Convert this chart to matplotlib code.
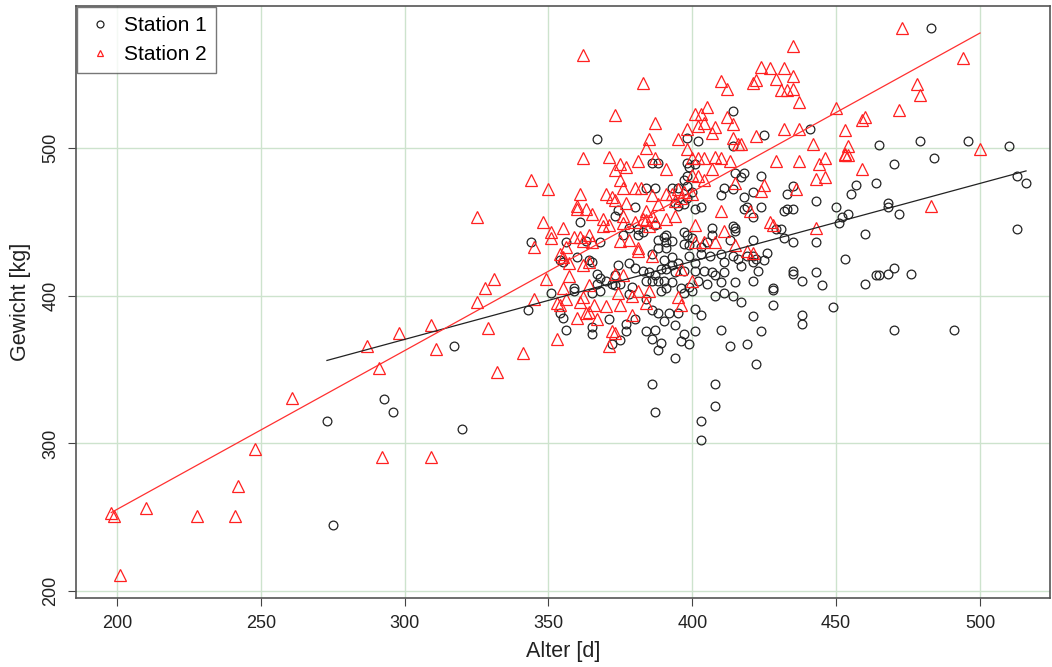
import matplotlib.pyplot as plt
import numpy as np

plt.rcParams['font.family'] = ['Liberation Sans', 'DejaVu Sans']

# Station 1: Alter [d], Gewicht [kg]
s1 = [(273,315),(275,245),(293,330),(296,321),(317,366),(320,310),
      (483,581),(479,505),(496,505),(510,501),(484,493),(470,489),(513,481),(516,476),
      (468,463),(468,460),(472,455),(513,445),(470,419),(468,415),(476,415),(465,414),
      (470,377),(491,377),(465,502),
      (367,506),(414,525),(398,507),(402,505),(414,501),(425,509),(441,513),
      (361,450),(344,436),(356,436),(363,437),(368,436),(354,424),(355,423),(360,426),
      (364,424),(365,423),(367,415),(368,412),(367,408),(370,410),(359,405),(372,408),(373,414),
      (386,490),(388,490),(398,490),(399,487),(401,489),(415,483),(418,483),(417,480),
      (398,481),(397,478),(387,473),(384,473),(393,473),(395,473),(398,474),(400,470),
      (411,473),(414,472),(410,468),(418,467),(394,463),(395,461),(397,462),(398,466),
      (380,460),(374,458),(373,454),(401,459),(403,460),(418,459),(419,460),(378,446),
      (381,445),(376,441),(381,441),(383,443),(387,448),(390,440),(391,441),(391,436),
      (388,438),(393,437),(397,443),(398,441),(400,439),(397,435),(399,434),(407,446),
      (407,441),(413,438),(414,447),(415,446),(415,444),(403,433),(405,436),(388,432),
      (391,432),(386,428),(393,426),(395,422),(393,421),(390,424),(399,427),(401,422),
      (403,428),(406,427),(410,428),(414,427),(416,425),(419,427),(411,423),(417,420),
      (374,421),(378,422),(380,419),(383,417),(385,416),(387,414),(389,418),(391,418),
      (394,416),(397,417),(401,417),(404,417),(407,416),(408,414),(411,416),(384,410),
      (386,410),(388,410),(390,410),(393,409),(402,410),(405,408),(410,409),(415,409),
      (373,407),(375,408),(379,406),(391,405),(396,405),(399,406),
      (424,481),(421,470),(433,469),(435,474),(443,464),(424,460),(432,457),(433,459),
      (435,459),(450,460),(457,475),(455,469),(464,476),(452,453),(454,455),(451,449),
      (421,453),(429,445),(431,445),(432,439),(460,442),(421,438),(435,436),(443,436),
      (426,429),(421,427),(421,423),(422,425),(425,424),(423,417),(453,425),(435,417),
      (435,415),(443,416),(438,410),(445,407),(428,405),(421,410),(460,408),(464,414),
      (343,390),(354,388),(355,385),(356,377),(365,379),(365,374),(371,384),(372,367),
      (351,402),(359,403),(365,402),(368,403),
      (378,401),(384,398),(389,403),(397,402),(400,403),(408,400),(411,402),(414,400),
      (417,396),(380,384),(386,390),(388,388),(392,388),(395,388),(390,383),(401,391),
      (403,387),(377,381),(377,376),(375,370),(384,376),(387,377),(386,371),(394,380),
      (397,374),(396,369),(399,367),(389,368),(388,363),(401,376),(394,358),(410,377),
      (413,366),(419,367),(386,340),(408,340),(387,321),(408,325),(403,315),(403,302),
      (428,404),(428,394),(421,386),(438,387),(438,381),(449,392),(424,376),(422,354)]

# Station 2: Alter [d], Gewicht [kg]
s2 = [(198,253),(199,251),(210,256),(228,251),(241,251),(242,271),(248,296),(261,331),
      (287,366),(291,351),(292,291),(298,375),(309,380),(311,364),(309,291),(325,396),
      (201,211),(325,453),
      (473,581),(494,561),(478,543),(479,536),(472,526),(500,499),(483,461),
      (362,563),(373,522),
      (383,544),(410,545),(412,540),(421,544),(422,546),(387,517),(405,528),(401,523),
      (403,523),(412,521),(402,515),(404,517),(408,514),(414,516),(398,513),(407,510),
      (385,506),(395,506),(384,500),(414,507),(416,503),(417,503),(398,499),
      (435,569),(424,555),(427,554),(432,554),(435,549),(429,547),(431,539),(433,539),
      (435,540),(437,531),(450,527),(459,519),(460,521),(453,512),(432,513),(437,513),
      (422,508),(442,503),(454,501),(453,496),
      (362,493),(371,494),(344,478),(350,472),(361,469),(370,469),(372,467),(360,461),
      (360,459),(363,459),(365,455),(369,452),(348,450),(351,443),(355,446),(351,439),
      (369,447),(371,448),(359,440),(361,440),(364,441),(362,437),(365,436),(345,433),
      (356,433),(354,428),(355,426),(357,422),(362,421),(364,423),(331,411),(349,411),
      (357,413),(328,405),(355,405),(364,407),(373,485),
      (381,491),(387,493),(375,489),(377,487),(391,486),(400,493),(402,493),(404,493),
      (408,494),(410,493),(413,491),(407,486),(400,482),(402,481),(404,478),(415,476),
      (375,478),(376,473),(380,473),(382,473),(386,468),(391,469),(393,469),(395,472),
      (397,470),(400,469),(373,465),(377,463),(388,462),(394,464),(396,466),(384,457),
      (386,454),(383,452),(384,451),(385,447),(387,450),(376,454),(376,449),(380,450),
      (391,452),(394,454),(401,448),(410,457),(411,444),(375,437),(378,438),(381,432),
      (381,430),(401,436),(404,436),(408,436),(415,434),(419,430),(396,418),(373,415),
      (376,414),(386,427),(400,410),
      (429,491),(437,491),(444,489),(446,493),(453,495),(454,495),(459,486),(443,479),
      (446,480),(425,475),(424,471),(436,472),(427,450),(428,448),(443,446),(420,457),
      (421,429),
      (345,398),(353,395),(354,394),(356,398),(361,396),(362,399),(364,389),(363,388),
      (366,394),(370,393),(360,385),(367,384),(329,378),(353,371),(341,361),(332,348),
      (371,366),(372,376),
      (374,402),(379,400),(381,403),(385,403),(384,395),(375,394),(379,387),(395,399),
      (396,394),(373,375)]

s1_alter = np.array([p[0] for p in s1])
s1_gewicht = np.array([p[1] for p in s1])
s2_alter = np.array([p[0] for p in s2])
s2_gewicht = np.array([p[1] for p in s2])

# regression lines: intercept, slope
fit1 = [212.0, 0.528]
fit2 = [40.3, 1.075]

fig = plt.figure(figsize=(10.52, 6.67), dpi=100)
ax = fig.add_axes([0.0722, 0.1034, 0.9258, 0.8876])

ax.set_xlim(185.75, 524.3)
ax.set_ylim(195.3, 596.1)

xt = [200, 250, 300, 350, 400, 450, 500]
yt = [200, 300, 400, 500]
for v in xt:
    ax.axvline(v, color='#cde3cd', lw=1, zorder=0)
for v in yt:
    ax.axhline(v, color='#cde3cd', lw=1, zorder=0)

ax.plot(s1_alter, s1_gewicht, 'o', mfc='none', mec='#222222', ms=6.3, mew=0.9,
        label='Station 1', zorder=2)
ax.plot(s2_alter, s2_gewicht, '^', mfc='none', mec='#ff2020', ms=8.3, mew=0.9,
        label='Station 2', zorder=2)

x1 = np.array([s1_alter.min(), s1_alter.max()])
x2 = np.array([s2_alter.min(), s2_alter.max()])
ax.plot(x1, fit1[0] + fit1[1] * x1, color='#222222', lw=0.9, zorder=3)
ax.plot(x2, fit2[0] + fit2[1] * x2, color='#ff3030', lw=0.9, zorder=3)

ax.set_xticks(xt)
ax.set_yticks(yt)
ax.tick_params(direction='out', length=6, color='#444444', labelsize=13,
               labelcolor='#222222', pad=6)
plt.setp(ax.get_yticklabels(), rotation=90, va='center')
for s in ax.spines.values():
    s.set_color('#555555')
    s.set_linewidth(1.2)

ax.set_xlabel('Alter [d]', fontsize=15.5, color='#222222', labelpad=7)
ax.set_ylabel('Gewicht [kg]', fontsize=15.5, color='#222222', labelpad=8)

leg = ax.legend(loc='upper left', fontsize=15, frameon=True, fancybox=False,
                borderaxespad=0.05, handletextpad=0.5, borderpad=0.45,
                labelspacing=0.45, handlelength=1.3)
leg.get_frame().set_edgecolor('#555555')
leg.get_frame().set_linewidth(1.0)
for h in leg.legend_handles:
    h.set_markersize(5)

fig.savefig('out.png', dpi=100)
